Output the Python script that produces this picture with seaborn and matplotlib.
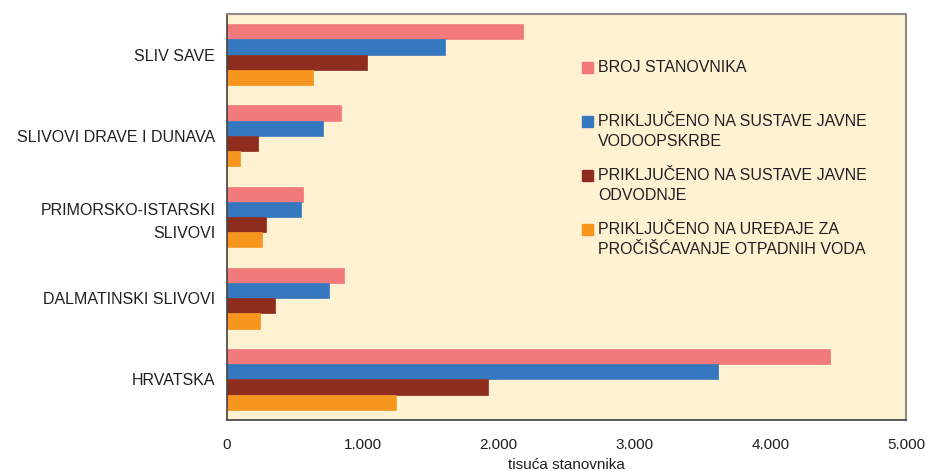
import pandas as pd
import matplotlib.pyplot as plt
import seaborn as sns
from matplotlib.patches import Rectangle
from matplotlib.ticker import FuncFormatter, FixedLocator

# data (tisuća stanovnika)
categories = ['SLIV SAVE', 'SLIVOVI DRAVE I DUNAVA', 'PRIMORSKO-ISTARSKI\nSLIVOVI',
              'DALMATINSKI SLIVOVI', 'HRVATSKA']
series = ['BROJ STANOVNIKA',
          'PRIKLJUČENO NA SUSTAVE JAVNE\nVODOOPSKRBE',
          'PRIKLJUČENO NA SUSTAVE JAVNE\nODVODNJE',
          'PRIKLJUČENO NA UREĐAJE ZA\nPROČIŠĆAVANJE OTPADNIH VODA']
broj_stanovnika = [2180, 842, 562, 864, 4443]
vodoopskrba = [1607, 709, 547, 753, 3618]
odvodnja = [1033, 231, 289, 356, 1924]
prociscavanje = [635, 98, 260, 245, 1247]
x_ticks = [0, 1000, 2000, 3000, 4000, 5000]

colors = ['#F27A7B', '#3678BF', '#8E2C1E', '#F7961F']
bg_color = '#FFF2D3'
text_color = '#231F20'

# long format for seaborn
rows = []
for name, vals in zip(series, [broj_stanovnika, vodoopskrba, odvodnja, prociscavanje]):
    for cat, v in zip(categories, vals):
        rows.append({'sliv': cat, 'serija': name, 'vrijednost': v})
df = pd.DataFrame(rows)

sns.set_style('white')
plt.rcParams['font.family'] = ['Liberation Sans', 'DejaVu Sans']
plt.rcParams['text.color'] = text_color

W, H = 929, 471
fig = plt.figure(figsize=(W / 100, H / 100), dpi=100)
ax = fig.add_axes([227 / W, (H - 420) / H, (906 - 227) / W, (420 - 14) / H])
ax.set_facecolor(bg_color)

sns.barplot(data=df, y='sliv', x='vrijednost', hue='serija', orient='h',
            order=categories, hue_order=series, palette=colors, width=0.75,
            saturation=1, errorbar=None, legend=False, ax=ax)

# no visible gaps between neighbouring bars
for p in ax.patches:
    p.set_edgecolor(p.get_facecolor())
    p.set_linewidth(0.5)

ax.set_xlim(0, 5000)
ax.set_ylim(4.5, -0.5)
ax.xaxis.set_major_locator(FixedLocator(x_ticks))
ax.xaxis.set_major_formatter(FuncFormatter(lambda v, p: f'{int(v):,}'.replace(',', '.')))
ax.set_yticks(range(len(categories)))
ax.set_yticklabels(categories, fontsize=11.5, color=text_color, linespacing=1.6)
ax.set_yticks([i - 0.5 for i in range(len(categories) + 1)], minor=True)
ax.tick_params(axis='y', which='major', length=0, pad=8.5)
ax.tick_params(axis='y', which='minor', length=4, width=1, color='#404040', direction='out')
ax.tick_params(axis='x', length=5, width=1, color='#404040', direction='out',
               labelsize=11, labelcolor=text_color, pad=8)
ax.set_xlabel('tisuća stanovnika', fontsize=11, color=text_color, labelpad=4)
ax.set_ylabel('')

for side in ['left', 'bottom']:
    ax.spines[side].set_color('#404040')
    ax.spines[side].set_linewidth(1.2)
for side in ['top', 'right']:
    ax.spines[side].set_color('#8C8C8C')
    ax.spines[side].set_linewidth(1.5)

# legend drawn as in the original (marker aligned with first line)
first_line_y = [67, 121, 175, 229]
for color, label, y in zip(colors, series, first_line_y):
    fig.patches.append(Rectangle((582 / W, (H - y - 5.5) / H), 11 / W, 11 / H,
                                 transform=fig.transFigure, color=color, figure=fig))
    for k, line in enumerate(label.split('\n')):
        fig.text(598 / W, (H - y - 21 * k) / H, line, fontsize=11.5,
                 color=text_color, va='center', ha='left')

fig.savefig('out.png', dpi=100)
